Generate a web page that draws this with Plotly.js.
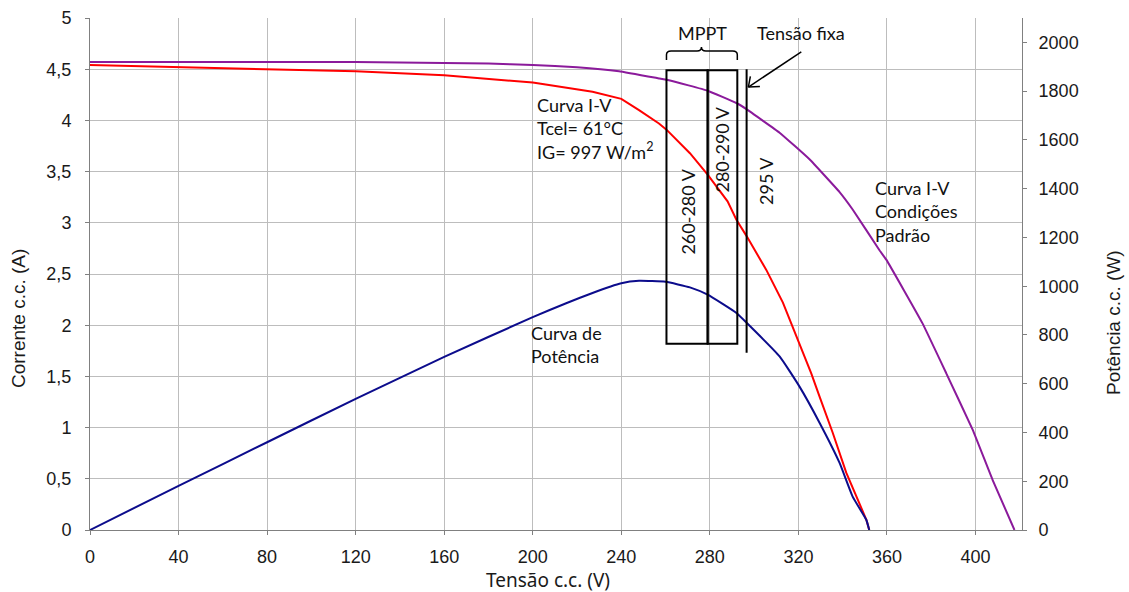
<!DOCTYPE html>
<html>
<head>
<meta charset="utf-8">
<script src="https://cdn.plot.ly/plotly-3.0.1.min.js"></script>
<style>html,body{margin:0;padding:0;background:#fff;}#chart{width:1129px;height:592px;}</style>
</head>
<body>
<div id="chart"></div>
<script>
// Curva I-V (Tcel = 61 °C, IG = 997 W/m²)
const vIV61 = [0, 40, 80, 120, 160, 200, 227, 240, 248, 257, 260.4, 271, 279, 288, 292, 296.6, 305.5, 313, 319.7, 325.8, 329.6, 335.5, 341.6, 346, 350.7, 352];
const iIV61 = [4.54, 4.52, 4.50, 4.48, 4.44, 4.37, 4.28, 4.21, 4.10, 3.97, 3.91, 3.68, 3.47, 3.21, 3.03, 2.87, 2.54, 2.22, 1.86, 1.53, 1.30, 0.95, 0.56, 0.33, 0.10, 0];

// Curva I-V Condições Padrão
const vIVstc = [0, 120, 180, 200, 220, 239, 257, 262, 279, 292, 296.5, 311.5, 325, 338.6, 344.5, 356.7, 359.7, 376, 386.8, 398.7, 407.7, 417.6];
const iIVstc = [4.57, 4.57, 4.555, 4.54, 4.52, 4.48, 4.41, 4.39, 4.29, 4.17, 4.11, 3.88, 3.62, 3.30, 3.13, 2.73, 2.64, 2.02, 1.53, 0.98, 0.49, 0];

// Curva de Potência
const vPot = [0, 40, 80, 120, 160, 200, 227, 240, 248, 260, 271, 279, 292, 296.6, 311.5, 320.5, 329.6, 338.6, 344.5, 350.7, 352];
const pPot = [0, 181, 360, 538, 710, 873, 972, 1012, 1022, 1018, 995, 965, 890, 850, 712, 588, 439, 275, 137, 41, 0];

// MPPT ranges and fixed voltage
const mpptRanges = [[260.4, 279], [279, 292.4]];
const mpptLabels = ["260-280 V", "280-290 V"];
const fixedVoltage = 296.6;
const fixedLabel = "295 V";

const txtFont = {family: "Lato, 'Noto Sans', sans-serif", size: 18, color: "#111"};
const tickFont = {family: "'Liberation Sans', Arial, sans-serif", size: 18, color: "#1a1a1a"};
const titleFont = {family: "'Liberation Sans', Arial, sans-serif", size: 19, color: "#1a1a1a"};

const traces = [
  {x: vIV61, y: iIV61, type: "scatter", mode: "lines", line: {color: "#ff0000", width: 2}, hoverinfo: "skip"},
  {x: vIVstc, y: iIVstc, type: "scatter", mode: "lines", line: {color: "#8b1a9b", width: 2, shape: "spline", smoothing: 0.3}, hoverinfo: "skip"},
  {x: vPot, y: pPot, type: "scatter", mode: "lines", yaxis: "y2", line: {color: "#0c0c8c", width: 2, shape: "spline", smoothing: 0.4}, hoverinfo: "skip"}
];

const shapes = [];
mpptRanges.forEach(r => {
  shapes.push({type: "rect", xref: "x", yref: "y", x0: r[0], x1: r[1], y0: 1.82, y1: 4.49, line: {color: "#000", width: 2}});
});
shapes.push({type: "line", xref: "x", yref: "y", x0: fixedVoltage, x1: fixedVoltage, y0: 1.73, y1: 4.50, line: {color: "#000", width: 2}});
// brace over MPPT
shapes.push({type: "path", xref: "x", yref: "y",
  path: "M 260.4,4.59 L 260.4,4.64 Q 260.4,4.678 262.5,4.678 L 274.2,4.678 Q 276.2,4.678 276.2,4.717 Q 276.2,4.678 278.2,4.678 L 290.3,4.678 Q 292.4,4.678 292.4,4.64 L 292.4,4.59",
  line: {color: "#000", width: 1.5}});
// arrow to fixed voltage
shapes.push({type: "line", xref: "x", yref: "y", x0: 321.3, y0: 4.67, x1: 297.4, y1: 4.325, line: {color: "#000", width: 1.5}});
shapes.push({type: "line", xref: "x", yref: "y", x0: 297.4, y0: 4.325, x1: 302.6, y1: 4.33, line: {color: "#000", width: 1.5}});
shapes.push({type: "line", xref: "x", yref: "y", x0: 297.4, y0: 4.325, x1: 298.3, y1: 4.43, line: {color: "#000", width: 1.5}});

const annotations = [
  {xref: "x", yref: "y", x: 276.5, y: 4.85, text: "MPPT", showarrow: false, font: txtFont},
  {xref: "x", yref: "y", x: 321, y: 4.85, text: "Tensão fixa", showarrow: false, font: txtFont},
  {xref: "x", yref: "y", x: (mpptRanges[0][0] + mpptRanges[0][1]) / 2, y: 3.11, text: mpptLabels[0], textangle: -90, showarrow: false, font: txtFont},
  {xref: "x", yref: "y", x: (mpptRanges[1][0] + mpptRanges[1][1]) / 2, y: 3.72, text: mpptLabels[1], textangle: -90, showarrow: false, font: txtFont},
  {xref: "x", yref: "y", x: fixedVoltage + 8.8, y: 3.41, text: fixedLabel, textangle: -90, showarrow: false, font: txtFont},
  {xref: "x", yref: "y", x: 201, y: 3.92, text: "Curva I-V<br>Tcel= 61°C<br>IG= 997 W/m<sup>2</sup>", align: "left", xanchor: "left", yanchor: "middle", showarrow: false, font: txtFont},
  {xref: "x", yref: "y", x: 198.5, y: 1.81, text: "Curva de<br>Potência", align: "left", xanchor: "left", yanchor: "middle", showarrow: false, font: txtFont},
  {xref: "x", yref: "y", x: 353.5, y: 3.11, text: "Curva I-V<br>Condições<br>Padrão", align: "left", xanchor: "left", yanchor: "middle", showarrow: false, font: txtFont},
  {xref: "paper", yref: "paper", x: (18 - 90) / 932, y: (530 - 319) / 512, xanchor: "center", yanchor: "middle", text: "Corrente c.c. (A)", textangle: -90, showarrow: false, font: titleFont},
  {xref: "paper", yref: "paper", x: (1113 - 90) / 932, y: (530 - 323) / 512, xanchor: "center", yanchor: "middle", text: "Potência c.c. (W)", textangle: -90, showarrow: false, font: titleFont},
  {xref: "paper", yref: "paper", x: (548 - 90) / 932, y: (530 - 580) / 512, xanchor: "center", yanchor: "middle", text: "Tensão c.c. (V)", showarrow: false, font: {family: "'Noto Sans', sans-serif", size: 19, color: "#1a1a1a"}}
];

const layout = {
  width: 1129, height: 592,
  margin: {l: 90, r: 107, t: 18, b: 62},
  paper_bgcolor: "#fff", plot_bgcolor: "#fff",
  showlegend: false,
  separators: ",.",
  xaxis: {range: [0, 421], dtick: 40, tick0: 0, showgrid: true, gridcolor: "#bdbdbd", gridwidth: 1,
    zeroline: false, showline: true, linecolor: "#808080", linewidth: 1,
    ticks: "outside", ticklen: 4, tickcolor: "#808080", tickfont: tickFont, ticklabelstandoff: 6},
  yaxis: {range: [0, 5], dtick: 0.5, tick0: 0, showgrid: true, gridcolor: "#bdbdbd", gridwidth: 1,
    zeroline: false, showline: true, linecolor: "#808080", linewidth: 1,
    ticks: "outside", ticklen: 4, tickcolor: "#808080", tickfont: tickFont, ticklabelstandoff: 10},
  yaxis2: {range: [0, 2100], dtick: 200, tick0: 0, overlaying: "y", side: "right", showgrid: false,
    zeroline: false, showline: true, linecolor: "#808080", linewidth: 1,
    ticks: "outside", ticklen: 4, tickcolor: "#808080", tickfont: tickFont, ticklabelstandoff: 8},
  shapes: shapes,
  annotations: annotations
};

Plotly.newPlot("chart", traces, layout, {staticPlot: true, displayModeBar: false});
</script>
</body>
</html>
